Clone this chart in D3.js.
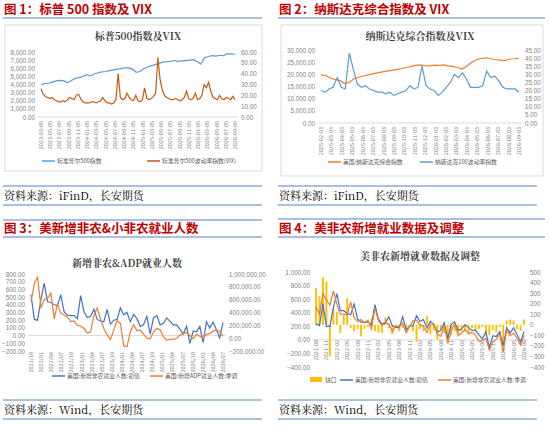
<!DOCTYPE html><html><head><meta charset="utf-8"><script src="https://cdn.jsdelivr.net/npm/d3@7"></script>
<style>body{margin:0;background:#fff}svg{font-family:"Noto Sans CJK SC",sans-serif}</style></head><body><svg id="s" width="550" height="428"></svg>
<script>
// ---------- data ----------
const c1Labels=["2023-03-05","2023-05-05","2023-07-05","2023-09-05","2023-11-05","2024-01-05","2024-03-05","2024-05-05","2024-07-05","2024-09-05","2024-11-05","2025-01-05","2025-03-05","2025-05-05","2025-07-05","2025-09-05","2025-11-05","2026-01-05","2026-03-05","2026-05-05","2026-07-05","2026-09-05"];
const c1Spx=[4000,4100,4150,4300,4450,4500,4450,4250,4500,4750,4850,5000,5200,5050,5300,5450,5550,5600,5700,5800,5900,5950,6050,6050,5900,5500,5600,5950,6150,6300,6450,6600,6750,6800,6850,6950,6850,6900,6950,7000,7050,6850,6500,7300,7450,7550,7500,7600,7550,7800,7750,7750];
const c1Vix=[26,21,19,18,17,18,16,15,14,14,15,14,16,18,17,16,20,21,17,14,13,13,13,14,14,13,14,15,18,15,13,13,12,13,16,40,18,16,17,22,18,16,15,20,15,14,16,27,17,16,17,19,22,55,35,25,20,18,17,16,16,17,16,15,16,18,24,17,16,17,22,16,17,20,30,27,32,24,18,17,16,20,17,16,18,17,16,19,16];
const c2Labels=["2025-02-03","2025-03-03","2025-04-03","2025-05-03","2025-06-03","2025-07-03","2025-08-03","2025-09-03","2025-10-03","2025-11-03","2025-12-03","2026-01-03","2026-02-03","2026-03-03","2026-04-03","2026-05-03","2026-06-03","2026-07-03","2026-08-03","2026-09-03"];
const c2Ndx=[19800,19500,18500,17800,17500,16200,16800,18200,18800,19300,19800,20200,20600,21000,21300,21600,21900,22300,22800,23200,23700,23900,23600,23500,23800,23700,23900,23500,23200,22800,22200,23500,25000,26000,26500,26800,26400,26000,25800,25600,26300,26400,26600];
const c2Vxn=[20,19,21,22,28,22,21,43,33,24,22,23,21,20,19,19,18,19,17,18,19,20,23,21,22,35,23,21,20,17,19,22,25,30,28,31,27,22,22,22,23,32,28,29,26,22,21,21,21,19];
const c3Labels=["2021/10","2022/01","2022/04","2022/07","2022/10","2023/01","2023/04","2023/07","2023/10","2024/01","2024/04","2024/07","2024/10","2025/01","2025/04","2025/07","2025/10","2026/01","2026/04","2026/07"];
const c3Nfp=[530,210,200,470,680,440,430,400,390,530,310,265,260,260,220,520,310,235,250,340,210,190,180,340,150,200,210,360,270,300,180,275,220,120,140,250,20,230,260,140,160,230,185,140,140,80,20,120,-100,60,50,120,-90,180,100,175,80,-30,170];
const c3Adp=[570,850,950,480,600,620,700,300,530,390,360,330,260,270,200,190,150,80,100,350,470,300,150,50,-20,130,270,230,-120,-130,100,210,120,130,60,0,-10,100,150,130,20,-30,-20,-20,-5,50,70,90,40,-10,60,30,0,60,70,110,130,100,30].map(v=>v*1000);
const c4Labels=["2021-08","2021-11","2022-02","2022-05","2022-08","2022-11","2023-02","2023-05","2023-08","2023-11","2024-02","2024-05","2024-08","2024-11","2025-02","2025-05","2025-08","2025-11","2026-02","2026-05","2026-08"];
const c4Init=[235,210,530,200,200,470,680,430,430,390,370,530,310,260,260,265,220,520,310,235,250,340,210,185,180,340,150,200,210,355,270,300,175,275,220,115,140,255,20,230,265,140,160,225,180,140,145,75,15,115,-110,60,50,120,-90,180,100,180,80,-30,120];
const c4Rev=[480,380,680,590,510,720,530,380,380,370,560,330,270,300,250,290,160,470,280,220,240,240,120,210,190,250,100,200,280,290,220,200,110,230,240,80,50,210,-40,130,240,60,100,150,90,110,70,-20,-10,20,-150,-30,10,80,-180,150,60,100,20,-80,70];
const c4Gap=[350,270,450,410,-300,150,120,-80,90,250,-30,-60,-40,-110,-40,-20,60,-60,-70,-80,70,-30,-90,-20,-60,-30,-70,-20,-60,-160,-40,-60,80,-90,-50,-140,-50,-80,-180,-100,-60,-90,-60,-60,-80,-30,-70,-40,-20,-80,-100,-50,-70,-20,-170,40,50,40,-40,-60,50];

const svg=d3.select("#s");
function hline(x1,x2,y){svg.append("line").attr("x1",x1).attr("x2",x2).attr("y1",y).attr("y2",y).attr("stroke","#8eaadb").attr("stroke-width",1.5);}
function htitle(x,y,t){svg.append("text").attr("x",x).attr("y",y).attr("fill","#c00000").attr("font-weight","bold").attr("font-size",12.5).text(t);}
function footer(x,y,src){
  hline(x+3,x+262,y);
  svg.append("text").attr("x",x+4).attr("y",y+14).attr("font-family","'Noto Serif CJK SC','Liberation Serif',serif").attr("font-size",11).text(src);
  hline(x+3,x+262,y+19);
}
function fmt(v){return d3.format(",.2f")(v)}
function chart(o){
  const g=svg.append("g");
  if(o.box) g.append("rect").attr("x",o.box[0]).attr("y",o.box[1]).attr("width",o.box[2]).attr("height",o.box[3]).attr("fill","none").attr("stroke","#d9d9d9");
  g.append("text").attr("x",(o.x0+o.x1)/2).attr("y",o.ty).attr("text-anchor","middle").attr("font-size",10).attr("font-weight","bold").attr("fill","#404040").attr("font-family","'Noto Serif CJK SC',serif").text(o.title);
  const yl=d3.scaleLinear().domain(o.ld).range([o.y1,o.y0]);
  const yr=d3.scaleLinear().domain(o.rd).range([o.y1,o.y0]);
  g.append("g").attr("transform",`translate(${o.x0},0)`).call(d3.axisLeft(yl).tickValues(d3.range(o.ld[0],o.ld[1]+1e-9,o.ls)).tickFormat(o.lf||fmt).tickSize(0).tickPadding(3))
   .call(a=>{a.select(".domain").remove();a.selectAll("text").attr("fill","#7f7f7f").attr("font-size",6.3)});
  g.append("g").attr("transform",`translate(${o.x1},0)`).call(d3.axisRight(yr).tickValues(d3.range(o.rd[0],o.rd[1]+1e-9,o.rs)).tickFormat(o.rf||fmt).tickSize(0).tickPadding(3))
   .call(a=>{a.select(".domain").remove();a.selectAll("text").attr("fill","#7f7f7f").attr("font-size",6.3)});
  const xl=d3.scalePoint().domain(o.labels).range([o.x0+3,o.x1-3]);
  g.append("line").attr("x1",o.x0).attr("x2",o.x1).attr("y1",yl(0)).attr("y2",yl(0)).attr("stroke","#d9d9d9");
  o.labels.forEach(l=>g.append("text").attr("transform",`translate(${xl(l)+2},${o.lay}) rotate(-90)`).attr("text-anchor","end").attr("font-size",5.5).attr("fill","#7f7f7f").text(l));
  o.series.forEach(s=>{
    const xs=d3.scaleLinear().domain([0,s.v.length-1]).range([o.x0+3,o.x1-3]);
    const y=s.axis=="r"?yr:yl;
    if(s.bar){
      const bw=(o.x1-o.x0)/s.v.length*0.55;
      g.selectAll(null).data(s.v).join("rect").attr("x",(d,i)=>xs(i)-bw/2).attr("width",bw).attr("y",d=>Math.min(y(d),y(0))).attr("height",d=>Math.abs(y(d)-y(0))).attr("fill",s.c);
    } else g.append("path").datum(s.v).attr("fill","none").attr("stroke",s.c).attr("stroke-width",1.2).attr("d",d3.line().x((d,i)=>xs(i)).y(d=>y(d)));
  });
  let lx=o.legx;
  o.series.forEach((s,i)=>{
    if(s.bar) g.append("rect").attr("x",lx).attr("y",o.legy-3).attr("width",12).attr("height",5).attr("fill",s.c);
    else g.append("line").attr("x1",lx).attr("x2",lx+13).attr("y1",o.legy).attr("y2",o.legy).attr("stroke",s.c).attr("stroke-width",1.5);
    g.append("text").attr("x",lx+15).attr("y",o.legy+2).attr("font-size",5.8).attr("fill","#595959").text(s.name);
    lx+=o.legw[i];
  });
}
htitle(4,14,"图 1：标普 500 指数及 VIX"); hline(3,262,18);
htitle(279,14,"图 2：纳斯达克综合指数及 VIX"); hline(278,545,18);
hline(3,262,220); htitle(4,233,"图 3：美新增非农&小非农就业人数"); hline(3,262,237);
hline(278,545,219); htitle(279,233,"图 4：美非农新增就业数据及调整"); hline(278,545,237);
footer(0,186,"资料来源：iFinD，长安期货");
footer(275,186,"资料来源：iFinD，长安期货");
footer(0,400,"资料来源：Wind，长安期货");
footer(275,400,"资料来源：Wind，长安期货");

chart({box:[5,25,257,146],title:"标普500指数及VIX",ty:40,x0:38,x1:238,y0:52,y1:117,ld:[0,8000],ls:1000,rd:[0,60],rs:10,labels:c1Labels,lay:121,
  series:[{v:c1Spx,c:"#5b9bd5",name:"标准普尔500指数"},{v:c1Vix,c:"#c55a11",axis:"r",name:"标准普尔500波动率指数(VIX)"}],legx:42,legy:161,legw:[105]});
chart({box:[281,25,262,151],title:"纳斯达克综合指数及VIX",ty:40,x0:318,x1:522,y0:50,y1:123,ld:[0,30000],ls:5000,rd:[0,45],rs:5,labels:c2Labels,lay:127,
  series:[{v:c2Ndx,c:"#ed7d31",name:"美国:纳斯达克综合指数"},{v:c2Vxn,c:"#5b9bd5",axis:"r",name:"纳斯达克100波动率指数"}],legx:328,legy:162,legw:[92]});
chart({title:"新增非农&ADP就业人数",ty:267,x0:28,x1:226,y0:274,y1:351,ld:[-200,800],ls:100,rd:[-200000,1000000],rs:200000,labels:c3Labels,lay:352,
  series:[{v:c3Nfp,c:"#4472c4",name:"美国:新增非农就业人数:初值"},{v:c3Adp,c:"#ed7d31",axis:"r",name:"美国:新增ADP就业人数:季调"}],legx:52,legy:376,legw:[98]});
chart({title:"美非农新增就业数据及调整",ty:260,x0:313,x1:527,y0:272,y1:367,ld:[-400,1000],ls:200,rd:[-400,500],rs:100,rf:d3.format("d"),labels:c4Labels,lay:340,
  series:[{v:c4Gap,c:"#ffc000",axis:"r",bar:true,name:"缺口"},{v:c4Init,c:"#4472c4",name:"美国:新增非农就业人数:初值"},{v:c4Rev,c:"#ed7d31",name:"美国:新增非农就业人数:季调"}],legx:310,legy:380,legw:[30,98]});
</script></body></html>
